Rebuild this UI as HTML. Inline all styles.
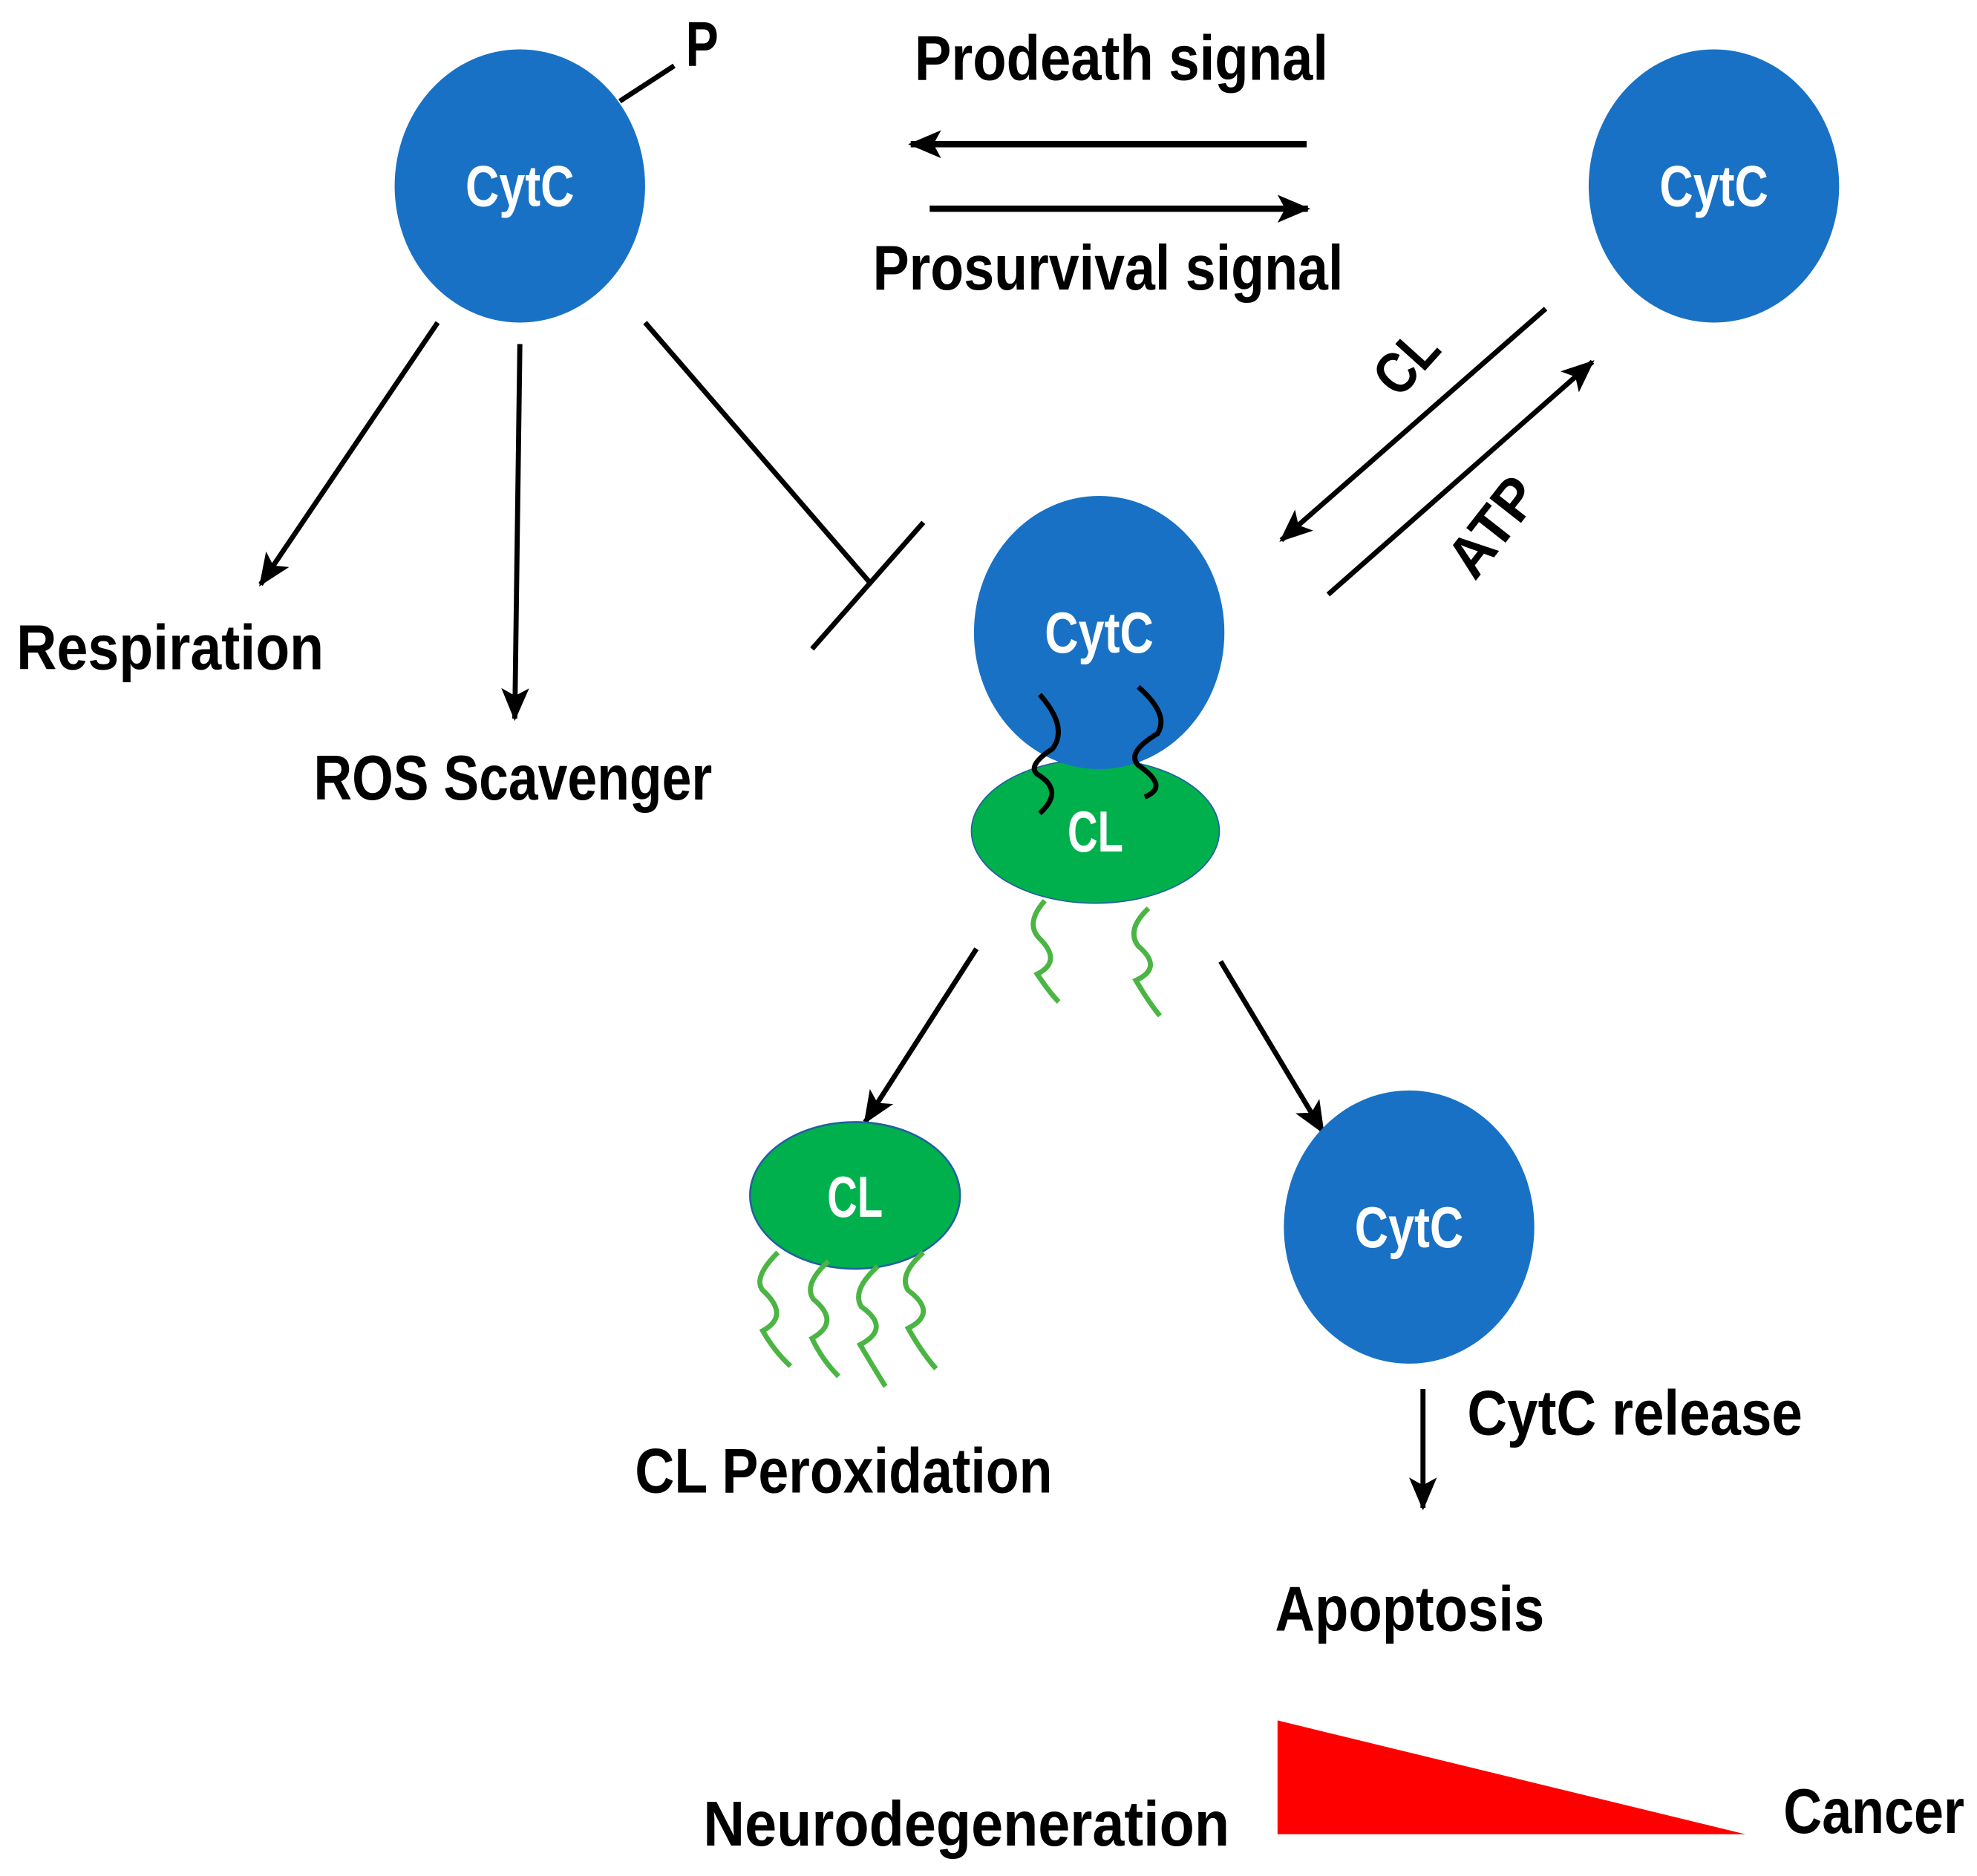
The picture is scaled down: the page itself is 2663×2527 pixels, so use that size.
<!DOCTYPE html>
<html><head><meta charset="utf-8"><style>
html,body{margin:0;padding:0;background:#fff;}
svg{display:block;}
text{font-family:"Liberation Sans",sans-serif;font-weight:bold;}
</style></head><body>
<svg width="2663" height="2527" viewBox="0 0 1563 1483" preserveAspectRatio="none" xmlns="http://www.w3.org/2000/svg">
<defs>
<marker id="ah2" markerWidth="30" markerHeight="30" refX="24" refY="15" orient="auto" markerUnits="userSpaceOnUse" viewBox="0 0 30 30">
<path d="M0,4 L26,15 L0,26 L6,15 Z" fill="#000"/>
</marker>
</defs>
<g font-size="50" fill="#000">
<line x1="490" y1="80" x2="533" y2="52" stroke="#000" stroke-width="4"/>
<text x="542" y="52" textLength="26" lengthAdjust="spacingAndGlyphs">P</text>
<ellipse cx="411" cy="147" rx="99" ry="108" fill="#1971C5"/>
<text x="411" y="163" fill="#fff" text-anchor="middle" font-size="46" textLength="86" lengthAdjust="spacingAndGlyphs">CytC</text>

<text x="723" y="63" textLength="327" lengthAdjust="spacingAndGlyphs">Prodeath signal</text>
<line x1="1033" y1="114" x2="720" y2="114" stroke="#000" stroke-width="5" marker-end="url(#ah2)"/>
<line x1="735" y1="165" x2="1034" y2="165" stroke="#000" stroke-width="5" marker-end="url(#ah2)"/>
<text x="690" y="229" textLength="372" lengthAdjust="spacingAndGlyphs">Prosurvival signal</text>

<ellipse cx="1355" cy="147" rx="99" ry="108" fill="#1971C5"/>
<text x="1355" y="163" fill="#fff" text-anchor="middle" font-size="46" textLength="86" lengthAdjust="spacingAndGlyphs">CytC</text>

<line x1="346" y1="255" x2="206" y2="462" stroke="#000" stroke-width="4" marker-end="url(#ah2)"/>
<line x1="411" y1="272" x2="407" y2="568" stroke="#000" stroke-width="4" marker-end="url(#ah2)"/>
<line x1="510" y1="255" x2="689" y2="462" stroke="#000" stroke-width="4"/>
<line x1="642" y1="513" x2="730" y2="413" stroke="#000" stroke-width="4"/>
<text x="13" y="529" textLength="243" lengthAdjust="spacingAndGlyphs">Respiration</text>
<text x="248" y="632" textLength="315" lengthAdjust="spacingAndGlyphs">ROS Scavenger</text>

<line x1="1222" y1="244" x2="1013" y2="427" stroke="#000" stroke-width="4" marker-end="url(#ah2)"/>
<line x1="1050" y1="470" x2="1259" y2="286" stroke="#000" stroke-width="4" marker-end="url(#ah2)"/>
<text transform="translate(1106,316) rotate(-48)" font-size="46" textLength="52" lengthAdjust="spacingAndGlyphs">CL</text>
<text transform="translate(1166,460) rotate(-52)" font-size="46" textLength="86" lengthAdjust="spacingAndGlyphs">ATP</text>

<ellipse cx="866" cy="657" rx="98" ry="57" fill="#00B04D" stroke="#2060a0" stroke-width="1"/>
<ellipse cx="869" cy="500" rx="99" ry="108" fill="#1971C5"/>
<text x="869" y="516" fill="#fff" text-anchor="middle" font-size="46" textLength="86" lengthAdjust="spacingAndGlyphs">CytC</text>
<text x="866" y="673" fill="#fff" text-anchor="middle" font-size="46" textLength="44" lengthAdjust="spacingAndGlyphs">CL</text>
<path d="M822,549 Q845,575 832,592 Q812,605 820,612 Q842,625 822,643" fill="none" stroke="#000" stroke-width="4"/>
<path d="M900,543 Q925,565 915,580 Q890,595 900,605 Q925,622 905,630" fill="none" stroke="#000" stroke-width="4"/>
<path d="M826,712 Q810,730 822,742 Q840,760 820,770 Q830,785 837,792" fill="none" stroke="#4BB543" stroke-width="4"/>
<path d="M908,718 Q890,735 900,748 Q920,765 898,775 Q908,792 917,803" fill="none" stroke="#4BB543" stroke-width="4"/>

<line x1="772" y1="750" x2="684" y2="887" stroke="#000" stroke-width="4" marker-end="url(#ah2)"/>
<line x1="965" y1="760" x2="1046" y2="895" stroke="#000" stroke-width="4" marker-end="url(#ah2)"/>

<ellipse cx="676" cy="945" rx="83" ry="58" fill="#00B04D" stroke="#2060a0" stroke-width="1.5"/>
<text x="676" y="962" fill="#fff" text-anchor="middle" font-size="46" textLength="44" lengthAdjust="spacingAndGlyphs">CL</text>
<g fill="none" stroke="#4BB543" stroke-width="4">
<path d="M615,990 Q595,1010 603,1020 Q625,1040 603,1052 Q612,1068 625,1080"/>
<path d="M655,997 Q635,1015 643,1027 Q665,1045 642,1058 Q650,1075 663,1088"/>
<path d="M694,1001 Q673,1020 681,1033 Q705,1050 680,1063 Q690,1080 700,1096"/>
<path d="M730,990 Q710,1008 718,1020 Q742,1038 718,1050 Q728,1068 740,1082"/>
</g>
<text x="502" y="1180" textLength="330" lengthAdjust="spacingAndGlyphs">CL Peroxidation</text>

<ellipse cx="1114" cy="970" rx="99" ry="108" fill="#1971C5"/>
<text x="1114" y="986" fill="#fff" text-anchor="middle" font-size="46" textLength="86" lengthAdjust="spacingAndGlyphs">CytC</text>
<line x1="1125" y1="1098" x2="1125" y2="1192" stroke="#000" stroke-width="4" marker-end="url(#ah2)"/>
<text x="1160" y="1134" textLength="265" lengthAdjust="spacingAndGlyphs">CytC release</text>
<text x="1008" y="1289" textLength="213" lengthAdjust="spacingAndGlyphs">Apoptosis</text>

<polygon points="1010,1360 1010,1450 1380,1450" fill="#FF0000"/>
<text x="556" y="1459" textLength="416" lengthAdjust="spacingAndGlyphs">Neurodegeneration</text>
<text x="1410" y="1449" textLength="143" lengthAdjust="spacingAndGlyphs">Cancer</text>
</g>
</svg>
</body></html>
